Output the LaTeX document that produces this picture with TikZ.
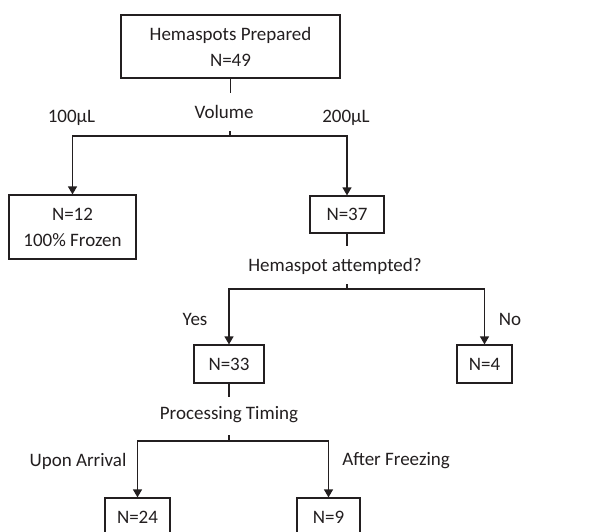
\documentclass[tikz,border=0pt]{standalone}
\usepackage{fontspec}
\setmainfont{Carlito}
\usetikzlibrary{arrows.meta,positioning}
\definecolor{flowInk}{RGB}{35,31,32}

\begin{document}
\begin{tikzpicture}[x=1pt, y=-1pt,
  box/.style={draw=flowInk, line width=1.2pt, inner sep=0pt, align=center,
              text=flowInk, font=\fontsize{19}{26}\selectfont},
  lbl/.style={text=flowInk, inner sep=0pt, font=\fontsize{19}{26}\selectfont},
  link/.style={draw=flowInk, line width=1.2pt},
  arr/.style={link, -{Triangle[length=8pt, width=9pt]}}
]
  \path[use as bounding box, fill=white] (0,0) rectangle (589,532);

  % boxes
  \node[box, minimum width=219pt, minimum height=63pt] (prep)   at (230.5,46.5) {Hemaspots Prepared\\N=49};
  \node[box, minimum width=127pt, minimum height=64pt] (frozen) at (72.5,227)   {N=12\\100\% Frozen};
  \node[box, minimum width=74pt,  minimum height=37pt] (vol200) at (347,214.5)  {N=37};
  \node[box, minimum width=70pt,  minimum height=38pt] (yes)    at (229,364)    {N=33};
  \node[box, minimum width=55pt,  minimum height=38pt] (no)     at (484.5,364)  {N=4};
  \node[box, minimum width=65pt,  minimum height=38pt] (arrival) at (137.5,517) {N=24};
  \node[box, minimum width=63pt,  minimum height=38pt] (freeze) at (328.5,517)  {N=9};

  % labels
  \node[lbl] (volume)  at (224,112)   {Volume};
  \node[lbl] (l100)    at (71.5,118)  {100µL};
  \node[lbl] (l200)    at (346,118)   {200µL};
  \node[lbl] (attempt) at (335,266)   {Hemaspot attempted?};
  \node[lbl] (lyes)    at (195,319)   {Yes};
  \node[lbl] (lno)     at (510,319)   {No};
  \node[lbl] (timing)  at (229,415)   {Processing Timing};
  \node[lbl] (lupon)   at (78,461)    {Upon Arrival};
  \node[lbl] (lafter)  at (396,461)   {After Freezing};

  % junctions
  \coordinate (jvol) at (230,136);
  \coordinate (jatt) at (347,289);
  \coordinate (jtim) at (229,441);

  \draw[link] (prep.south) -- ++(0,14);
  \draw[link] (jvol) -- ++(0,-5);
  \draw[arr] (jvol) -| (frozen.north);
  \draw[arr] (jvol) -| (vol200.north);

  \draw[link] (vol200.south) -- ++(0,12);
  \draw[link] (jatt) -- ++(0,-5);
  \draw[arr] (jatt) -| (yes.north);
  \draw[arr] (jatt) -| (no.north);

  \draw[link] (yes.south) -- ++(0,13);
  \draw[link] (jtim) -- ++(0,-6);
  \draw[arr] (jtim) -| (arrival.north);
  \draw[arr] (jtim) -| (freeze.north);
\end{tikzpicture}
\end{document}
